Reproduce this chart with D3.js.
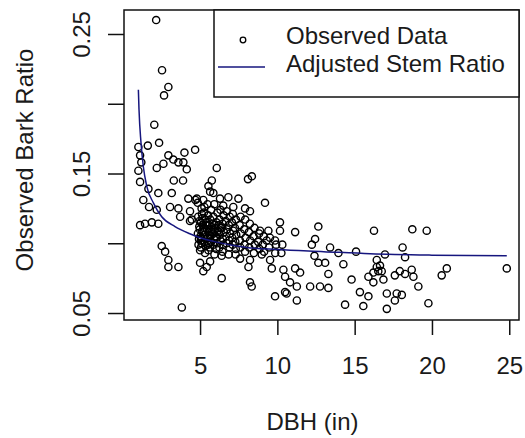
<!DOCTYPE html>
<html>
<head>
<meta charset="utf-8">
<script src="https://cdn.jsdelivr.net/npm/d3@7"></script>
<style>
  html, body { margin: 0; padding: 0; background: #fff; }
  svg { display: block; }
  text { font-family: "Liberation Sans", Arial, sans-serif; fill: #1a1a1a; }
</style>
</head>
<body>
<svg id="chart" width="525" height="438"></svg>
<script>
// ---------- data ----------
const dbh = [
  2.16,2.54,2.95,2.67,2.04,2.35,1.62,1.01,4.68,3.99,1.12,2.95,1.20,2.63,3.27,3.60,3.92,2.20,4.14,1.01,
  1.12,1.66,3.30,3.90,2.30,3.17,1.33,6.08,4.24,4.79,1.70,2.20,3.06,3.60,4.35,4.35,1.44,1.88,2.30,1.12,
  3.71,4.46,2.52,2.74,2.95,2.95,3.60,3.82,8.10,8.35,5.76,5.54,5.65,5.86,4.70,5.21,4.85,6.29,6.83,7.48,
  9.20,6.50,7.15,7.91,8.23,10.17,10.17,11.15,8.88,9.42,9.31,9.85,5.00,5.32,5.54,5.00,5.43,5.65,5.21,6.40,
  7.59,8.23,8.13,8.99,9.53,9.64,6.40,8.23,8.34,10.39,10.50,10.82,9.85,10.60,11.26,7.30,11.47,10.50,11.26,11.15,
  12.40,12.65,12.44,12.23,13.41,13.95,14.27,12.65,13.09,13.30,15.09,16.25,16.43,16.43,15.89,16.21,16.53,16.86,16.21,14.80,
  15.34,15.89,15.56,17.08,17.08,14.38,12.12,12.76,13.30,18.73,19.66,18.10,16.96,18.26,16.64,16.75,17.60,17.92,18.26,18.69,
  18.80,19.12,20.96,20.63,24.84,17.72,18.05,17.60,19.77,
  4.88,4.95,4.86,4.93,4.90, 5.12,5.06,5.14,5.08,5.11,5.05, 5.28,5.34,5.26,5.31,5.29,5.35,
  5.52,5.46,5.55,5.49,5.53, 5.72,5.66,5.74,5.68,5.71,5.65, 5.92,5.86,5.94,5.88,5.91,5.85,5.93,
  6.12,6.06,6.14,6.08,6.11,6.05, 6.32,6.26,6.34,6.28,6.31,6.25, 6.52,6.46,6.54,6.48,6.51,6.45,
  6.72,6.66,6.74,6.68,6.71, 6.92,6.86,6.94,6.88,6.91,6.85, 7.12,7.06,7.14,7.08,7.11,
  7.32,7.26,7.34,7.28,7.31, 7.62,7.56,7.64,7.58,7.61, 7.92,7.86,7.94,7.88,7.91,
  8.22,8.16,8.24,8.18, 8.52,8.46,8.54,8.48, 8.82,8.76,8.84, 9.12,9.06,9.14, 9.52,9.46, 9.92,9.86, 10.32,10.26,
  4.98,5.02,5.05,4.97,5.18,5.22,5.15,5.40,5.38,5.45,5.60,5.62,5.58,5.80,5.78,6.00,6.02,6.20,6.22,6.40,5.10,5.25,5.48
];
const barkRatio = [
  .260,.224,.212,.206,.185,.172,.170,.169,.167,.165,.163,.163,.158,.157,.160,.158,.158,.154,.153,.152,
  .144,.139,.145,.145,.136,.136,.131,.154,.132,.132,.126,.124,.126,.125,.123,.116,.114,.115,.114,.113,
  .119,.117,.098,.094,.088,.083,.083,.054,.146,.148,.145,.141,.137,.136,.131,.131,.129,.132,.133,.132,
  .129,.127,.126,.125,.123,.115,.109,.108,.109,.109,.102,.102,.095,.093,.095,.086,.083,.087,.080,.091,
  .089,.088,.083,.092,.088,.082,.075,.072,.069,.081,.076,.072,.062,.064,.069,.092,.079,.065,.059,.082,
  .091,.112,.103,.099,.097,.093,.085,.086,.086,.078,.094,.109,.088,.083,.076,.079,.080,.074,.072,.074,
  .065,.062,.055,.064,.053,.056,.069,.069,.068,.110,.109,.097,.092,.090,.084,.080,.077,.080,.078,.081,
  .076,.069,.082,.077,.082,.064,.063,.059,.057,
  .119,.112,.107,.103,.099, .121,.115,.109,.104,.100,.097, .126,.117,.111,.106,.101,.098,
  .120,.113,.108,.104,.099, .124,.117,.110,.105,.101,.097, .128,.119,.113,.107,.103,.099,.092,
  .122,.115,.109,.104,.100,.096, .124,.117,.111,.106,.102,.097, .120,.114,.108,.103,.099,.094,
  .123,.116,.110,.105,.100, .119,.113,.107,.102,.097,.092, .121,.115,.109,.104,.099,
  .117,.111,.106,.101,.096, .119,.113,.107,.102,.097, .117,.110,.104,.099,.094,
  .114,.108,.102,.097, .111,.105,.099,.093, .107,.101,.096, .105,.099,.094, .104,.097, .099,.093, .099,.093,
  .110,.105,.102,.116,.113,.108,.118,.115,.103,.110,.113,.106,.100,.114,.108,.111,.105,.113,.108,.111,.125,.122,.128
];
// fitted "Adjusted Stem Ratio" curve
const fitDbh   = [1.01, 1.05, 1.18, 1.33, 1.55, 1.98, 2.52, 3.38, 4.30, 5.00, 6.00, 8.00, 10.0, 13.0, 16.0, 20.0, 24.84];
const fitRatio = [0.210,0.196,0.172,0.155,0.141,0.129,0.119,0.112,0.107,0.104,0.101,0.097,0.0955,0.094,0.0925,0.0915,0.091];

const xTicks = [5, 10, 15, 20, 25];
const yTicks = [0.05, 0.10, 0.15, 0.20, 0.25];
const yTickLabels = ["0.05", "", "0.15", "", "0.25"];

const xTitle = "DBH (in)";
const yTitle = "Observed Bark Ratio";
const legendLabels = ["Observed Data", "Adjusted Stem Ratio"];

// ---------- layout ----------
const plot = { left: 124, right: 519, top: 10, bottom: 320 };
const lineColor = "#16167e";
const fontSize = 24;

const svg = d3.select("#chart");
svg.append("rect").attr("width", 525).attr("height", 438).attr("fill", "#fff");

const x = d3.scaleLinear().domain([0.08, 25.63]).range([plot.left, plot.right]);
const y = d3.scaleLinear().domain([0.045, 0.2672]).range([plot.bottom, plot.top]);

// points
const pts = d3.zip(dbh, barkRatio);
svg.append("g")
  .selectAll("circle")
  .data(pts)
  .join("circle")
  .attr("cx", d => x(d[0]))
  .attr("cy", d => y(d[1]))
  .attr("r", 3.6)
  .attr("fill", "none")
  .attr("stroke", "#000")
  .attr("stroke-width", 1.4);

// fitted line
const line = d3.line().x(d => x(d[0])).y(d => y(d[1])).curve(d3.curveMonotoneX);
svg.append("path")
  .datum(d3.zip(fitDbh, fitRatio))
  .attr("d", line)
  .attr("fill", "none")
  .attr("stroke", lineColor)
  .attr("stroke-width", 1.5);

// axes
const xAxis = svg.append("g")
  .attr("transform", `translate(0,${plot.bottom})`)
  .call(d3.axisBottom(x).tickValues(xTicks).tickSize(15).tickFormat(d3.format("d")));
xAxis.select(".domain").remove();
xAxis.selectAll(".tick line").attr("stroke", "#111").attr("stroke-width", 1.5);
xAxis.selectAll(".tick text")
  .attr("y", 54).attr("dy", null)
  .attr("font-size", fontSize).attr("font-family", null).attr("fill", "#1a1a1a");

const yAxis = svg.append("g")
  .attr("transform", `translate(${plot.left},0)`)
  .call(d3.axisLeft(y).tickValues(yTicks).tickSize(16).tickFormat((d, i) => yTickLabels[i]));
yAxis.select(".domain").remove();
yAxis.selectAll(".tick line").attr("stroke", "#111").attr("stroke-width", 1.5);
yAxis.selectAll(".tick text")
  .attr("x", null).attr("dy", null)
  .attr("text-anchor", "middle")
  .attr("transform", "translate(-34,0) rotate(-90)")
  .attr("font-size", fontSize).attr("font-family", null).attr("fill", "#1a1a1a");

// plot box
svg.append("rect")
  .attr("x", plot.left).attr("y", plot.top)
  .attr("width", plot.right - plot.left).attr("height", plot.bottom - plot.top)
  .attr("fill", "none").attr("stroke", "#111").attr("stroke-width", 1.5);

// axis titles
svg.append("text")
  .attr("x", (plot.left + plot.right) / 2 - 9).attr("y", 430)
  .attr("text-anchor", "middle").attr("font-size", fontSize)
  .text(xTitle);
svg.append("text")
  .attr("transform", `translate(33,${160}) rotate(-90)`)
  .attr("text-anchor", "middle").attr("font-size", fontSize)
  .text(yTitle);

// legend
const lg = svg.append("g");
lg.append("rect")
  .attr("x", 214).attr("y", plot.top)
  .attr("width", plot.right - 214).attr("height", 87)
  .attr("fill", "#fff").attr("stroke", "#111").attr("stroke-width", 1.5);
lg.append("circle")
  .attr("cx", 243).attr("cy", 40).attr("r", 2.8)
  .attr("fill", "none").attr("stroke", "#000").attr("stroke-width", 1.3);
lg.append("line")
  .attr("x1", 218).attr("x2", 265).attr("y1", 67).attr("y2", 67)
  .attr("stroke", lineColor).attr("stroke-width", 1.5);
lg.append("text").attr("x", 286).attr("y", 44).attr("font-size", fontSize).text(legendLabels[0]);
lg.append("text").attr("x", 286).attr("y", 72).attr("font-size", fontSize).text(legendLabels[1]);
</script>
</body>
</html>
